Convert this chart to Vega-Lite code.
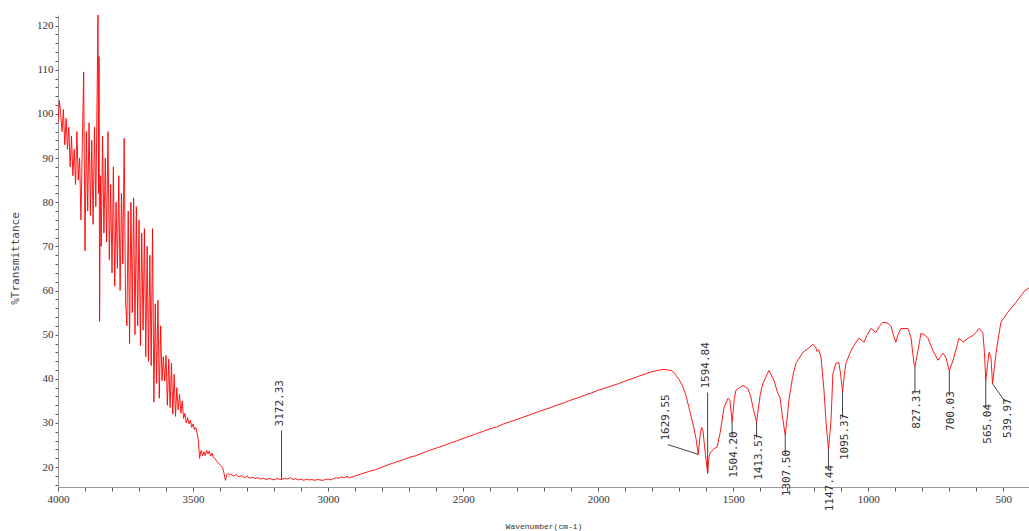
{
  "$schema": "https://vega.github.io/schema/vega-lite/v6.json",
  "width": 971,
  "height": 472,
  "autosize": {"type": "none"},
  "padding": {"left": 58, "top": 15, "right": 0, "bottom": 44},
  "background": "white",
  "config": {"view": {"stroke": null}, "axis": {"grid": false}},
  "datasets": {
    "spectrum": [
      {"wavenumber": 4000, "transmittance": 98}, {"wavenumber": 3995, "transmittance": 103}, {"wavenumber": 3990, "transmittance": 100},
      {"wavenumber": 3985, "transmittance": 96}, {"wavenumber": 3980, "transmittance": 101}, {"wavenumber": 3975, "transmittance": 93},
      {"wavenumber": 3970, "transmittance": 99}, {"wavenumber": 3965, "transmittance": 92}, {"wavenumber": 3960, "transmittance": 97},
      {"wavenumber": 3955, "transmittance": 88}, {"wavenumber": 3950, "transmittance": 95}, {"wavenumber": 3945, "transmittance": 86},
      {"wavenumber": 3940, "transmittance": 92}, {"wavenumber": 3935, "transmittance": 84}, {"wavenumber": 3930, "transmittance": 96},
      {"wavenumber": 3925, "transmittance": 85}, {"wavenumber": 3920, "transmittance": 90}, {"wavenumber": 3915, "transmittance": 76},
      {"wavenumber": 3910, "transmittance": 93}, {"wavenumber": 3905, "transmittance": 109.5}, {"wavenumber": 3900, "transmittance": 69},
      {"wavenumber": 3895, "transmittance": 96}, {"wavenumber": 3890, "transmittance": 78}, {"wavenumber": 3885, "transmittance": 98},
      {"wavenumber": 3880, "transmittance": 77}, {"wavenumber": 3875, "transmittance": 94}, {"wavenumber": 3870, "transmittance": 75},
      {"wavenumber": 3865, "transmittance": 97}, {"wavenumber": 3860, "transmittance": 79}, {"wavenumber": 3855, "transmittance": 105},
      {"wavenumber": 3852, "transmittance": 123}, {"wavenumber": 3850, "transmittance": 82}, {"wavenumber": 3848, "transmittance": 113},
      {"wavenumber": 3846, "transmittance": 53}, {"wavenumber": 3843, "transmittance": 86}, {"wavenumber": 3840, "transmittance": 70},
      {"wavenumber": 3835, "transmittance": 95}, {"wavenumber": 3830, "transmittance": 73}, {"wavenumber": 3825, "transmittance": 90},
      {"wavenumber": 3820, "transmittance": 71}, {"wavenumber": 3815, "transmittance": 96}, {"wavenumber": 3810, "transmittance": 67},
      {"wavenumber": 3805, "transmittance": 84}, {"wavenumber": 3800, "transmittance": 64}, {"wavenumber": 3795, "transmittance": 88},
      {"wavenumber": 3790, "transmittance": 61}, {"wavenumber": 3785, "transmittance": 80}, {"wavenumber": 3780, "transmittance": 65},
      {"wavenumber": 3775, "transmittance": 86}, {"wavenumber": 3770, "transmittance": 60}, {"wavenumber": 3765, "transmittance": 82},
      {"wavenumber": 3760, "transmittance": 66}, {"wavenumber": 3755, "transmittance": 94.5}, {"wavenumber": 3750, "transmittance": 58},
      {"wavenumber": 3745, "transmittance": 52}, {"wavenumber": 3740, "transmittance": 78}, {"wavenumber": 3735, "transmittance": 48},
      {"wavenumber": 3730, "transmittance": 80}, {"wavenumber": 3725, "transmittance": 55}, {"wavenumber": 3720, "transmittance": 81},
      {"wavenumber": 3715, "transmittance": 50}, {"wavenumber": 3710, "transmittance": 79}, {"wavenumber": 3705, "transmittance": 52},
      {"wavenumber": 3700, "transmittance": 76}, {"wavenumber": 3695, "transmittance": 47.5}, {"wavenumber": 3690, "transmittance": 73},
      {"wavenumber": 3685, "transmittance": 51}, {"wavenumber": 3680, "transmittance": 74}, {"wavenumber": 3675, "transmittance": 45},
      {"wavenumber": 3670, "transmittance": 70}, {"wavenumber": 3665, "transmittance": 44}, {"wavenumber": 3660, "transmittance": 68},
      {"wavenumber": 3655, "transmittance": 43}, {"wavenumber": 3650, "transmittance": 74}, {"wavenumber": 3645, "transmittance": 34.7},
      {"wavenumber": 3640, "transmittance": 57}, {"wavenumber": 3635, "transmittance": 39}, {"wavenumber": 3630, "transmittance": 57.8},
      {"wavenumber": 3625, "transmittance": 35.6}, {"wavenumber": 3620, "transmittance": 52}, {"wavenumber": 3615, "transmittance": 39.6},
      {"wavenumber": 3610, "transmittance": 45}, {"wavenumber": 3605, "transmittance": 39.5}, {"wavenumber": 3600, "transmittance": 45.3},
      {"wavenumber": 3595, "transmittance": 34}, {"wavenumber": 3590, "transmittance": 44.5}, {"wavenumber": 3585, "transmittance": 33.5},
      {"wavenumber": 3580, "transmittance": 43.5}, {"wavenumber": 3575, "transmittance": 32}, {"wavenumber": 3570, "transmittance": 41},
      {"wavenumber": 3565, "transmittance": 31.5}, {"wavenumber": 3560, "transmittance": 38}, {"wavenumber": 3555, "transmittance": 33},
      {"wavenumber": 3550, "transmittance": 36.5}, {"wavenumber": 3545, "transmittance": 32.2}, {"wavenumber": 3540, "transmittance": 35},
      {"wavenumber": 3535, "transmittance": 31}, {"wavenumber": 3530, "transmittance": 32.2}, {"wavenumber": 3525, "transmittance": 30},
      {"wavenumber": 3520, "transmittance": 31.2}, {"wavenumber": 3515, "transmittance": 29.8}, {"wavenumber": 3510, "transmittance": 30.6},
      {"wavenumber": 3505, "transmittance": 29}, {"wavenumber": 3500, "transmittance": 29.8}, {"wavenumber": 3495, "transmittance": 28.5},
      {"wavenumber": 3490, "transmittance": 29}, {"wavenumber": 3485, "transmittance": 27.6}, {"wavenumber": 3480, "transmittance": 26},
      {"wavenumber": 3476, "transmittance": 22}, {"wavenumber": 3470, "transmittance": 23.8}, {"wavenumber": 3465, "transmittance": 22.5},
      {"wavenumber": 3460, "transmittance": 23.5}, {"wavenumber": 3455, "transmittance": 22.6}, {"wavenumber": 3450, "transmittance": 23.8},
      {"wavenumber": 3445, "transmittance": 23}, {"wavenumber": 3440, "transmittance": 23.6}, {"wavenumber": 3435, "transmittance": 22.5},
      {"wavenumber": 3430, "transmittance": 23.2}, {"wavenumber": 3425, "transmittance": 22.2}, {"wavenumber": 3420, "transmittance": 22},
      {"wavenumber": 3415, "transmittance": 21.6}, {"wavenumber": 3410, "transmittance": 21.2}, {"wavenumber": 3405, "transmittance": 20.8},
      {"wavenumber": 3400, "transmittance": 20.6}, {"wavenumber": 3395, "transmittance": 20.2}, {"wavenumber": 3390, "transmittance": 19.8},
      {"wavenumber": 3385, "transmittance": 18.5}, {"wavenumber": 3380, "transmittance": 17.0}, {"wavenumber": 3375, "transmittance": 18.3},
      {"wavenumber": 3370, "transmittance": 18.6}, {"wavenumber": 3365, "transmittance": 18.2}, {"wavenumber": 3360, "transmittance": 18.4},
      {"wavenumber": 3350, "transmittance": 18.0}, {"wavenumber": 3340, "transmittance": 18.3}, {"wavenumber": 3330, "transmittance": 17.8},
      {"wavenumber": 3320, "transmittance": 18.1}, {"wavenumber": 3310, "transmittance": 17.6}, {"wavenumber": 3300, "transmittance": 17.9},
      {"wavenumber": 3290, "transmittance": 17.5}, {"wavenumber": 3280, "transmittance": 17.7}, {"wavenumber": 3270, "transmittance": 17.4},
      {"wavenumber": 3260, "transmittance": 17.6}, {"wavenumber": 3250, "transmittance": 17.3}, {"wavenumber": 3240, "transmittance": 17.5},
      {"wavenumber": 3230, "transmittance": 17.2}, {"wavenumber": 3220, "transmittance": 17.4}, {"wavenumber": 3210, "transmittance": 17.3},
      {"wavenumber": 3200, "transmittance": 17.1}, {"wavenumber": 3190, "transmittance": 17.4}, {"wavenumber": 3172.33, "transmittance": 17.2},
      {"wavenumber": 3160, "transmittance": 17.5}, {"wavenumber": 3150, "transmittance": 17.3}, {"wavenumber": 3140, "transmittance": 17.6},
      {"wavenumber": 3130, "transmittance": 17.2}, {"wavenumber": 3120, "transmittance": 17.4}, {"wavenumber": 3110, "transmittance": 17.1},
      {"wavenumber": 3100, "transmittance": 17.3}, {"wavenumber": 3090, "transmittance": 17.0}, {"wavenumber": 3080, "transmittance": 17.3},
      {"wavenumber": 3070, "transmittance": 17.1}, {"wavenumber": 3060, "transmittance": 17.2}, {"wavenumber": 3050, "transmittance": 17.0},
      {"wavenumber": 3040, "transmittance": 17.2}, {"wavenumber": 3030, "transmittance": 17.1}, {"wavenumber": 3020, "transmittance": 17.0},
      {"wavenumber": 3010, "transmittance": 17.2}, {"wavenumber": 3000, "transmittance": 17.3}, {"wavenumber": 2990, "transmittance": 17.1},
      {"wavenumber": 2980, "transmittance": 17.4}, {"wavenumber": 2970, "transmittance": 17.6}, {"wavenumber": 2960, "transmittance": 17.5},
      {"wavenumber": 2950, "transmittance": 17.8}, {"wavenumber": 2940, "transmittance": 17.6}, {"wavenumber": 2930, "transmittance": 17.9},
      {"wavenumber": 2920, "transmittance": 17.6}, {"wavenumber": 2900, "transmittance": 18.0}, {"wavenumber": 2875, "transmittance": 18.5},
      {"wavenumber": 2850, "transmittance": 19.0}, {"wavenumber": 2825, "transmittance": 19.4}, {"wavenumber": 2800, "transmittance": 20.0},
      {"wavenumber": 2775, "transmittance": 20.6}, {"wavenumber": 2750, "transmittance": 21.1}, {"wavenumber": 2725, "transmittance": 21.6},
      {"wavenumber": 2700, "transmittance": 22.2}, {"wavenumber": 2675, "transmittance": 22.6}, {"wavenumber": 2650, "transmittance": 23.2},
      {"wavenumber": 2625, "transmittance": 23.8}, {"wavenumber": 2600, "transmittance": 24.3}, {"wavenumber": 2575, "transmittance": 24.8},
      {"wavenumber": 2550, "transmittance": 25.4}, {"wavenumber": 2525, "transmittance": 25.9}, {"wavenumber": 2500, "transmittance": 26.5},
      {"wavenumber": 2475, "transmittance": 27.0}, {"wavenumber": 2450, "transmittance": 27.6}, {"wavenumber": 2425, "transmittance": 28.1},
      {"wavenumber": 2400, "transmittance": 28.7}, {"wavenumber": 2375, "transmittance": 29.1}, {"wavenumber": 2350, "transmittance": 29.8},
      {"wavenumber": 2325, "transmittance": 30.3}, {"wavenumber": 2300, "transmittance": 30.8}, {"wavenumber": 2275, "transmittance": 31.4},
      {"wavenumber": 2250, "transmittance": 31.9}, {"wavenumber": 2225, "transmittance": 32.5}, {"wavenumber": 2200, "transmittance": 33.0},
      {"wavenumber": 2175, "transmittance": 33.5}, {"wavenumber": 2150, "transmittance": 34.1}, {"wavenumber": 2125, "transmittance": 34.6},
      {"wavenumber": 2100, "transmittance": 35.2}, {"wavenumber": 2075, "transmittance": 35.7}, {"wavenumber": 2050, "transmittance": 36.3},
      {"wavenumber": 2025, "transmittance": 36.8}, {"wavenumber": 2000, "transmittance": 37.4}, {"wavenumber": 1975, "transmittance": 37.9},
      {"wavenumber": 1950, "transmittance": 38.4}, {"wavenumber": 1925, "transmittance": 38.9}, {"wavenumber": 1900, "transmittance": 39.5},
      {"wavenumber": 1875, "transmittance": 40.0}, {"wavenumber": 1850, "transmittance": 40.6}, {"wavenumber": 1830, "transmittance": 41.0},
      {"wavenumber": 1808, "transmittance": 41.5}, {"wavenumber": 1780, "transmittance": 41.9}, {"wavenumber": 1760, "transmittance": 42.1},
      {"wavenumber": 1740, "transmittance": 42.0}, {"wavenumber": 1725, "transmittance": 41.8}, {"wavenumber": 1712, "transmittance": 40.8},
      {"wavenumber": 1700, "transmittance": 39.8}, {"wavenumber": 1686, "transmittance": 38.1}, {"wavenumber": 1675, "transmittance": 36.2},
      {"wavenumber": 1664, "transmittance": 33.5}, {"wavenumber": 1655, "transmittance": 31.2}, {"wavenumber": 1646, "transmittance": 29.0},
      {"wavenumber": 1638, "transmittance": 26.5}, {"wavenumber": 1629.55, "transmittance": 22.9}, {"wavenumber": 1622, "transmittance": 27.5},
      {"wavenumber": 1617, "transmittance": 29.0}, {"wavenumber": 1612, "transmittance": 28.3}, {"wavenumber": 1606, "transmittance": 24.5},
      {"wavenumber": 1594.84, "transmittance": 18.6}, {"wavenumber": 1590, "transmittance": 22.2}, {"wavenumber": 1585, "transmittance": 23.3},
      {"wavenumber": 1571, "transmittance": 24.2}, {"wavenumber": 1560, "transmittance": 24.5}, {"wavenumber": 1549, "transmittance": 27.6},
      {"wavenumber": 1534, "transmittance": 33.5}, {"wavenumber": 1519, "transmittance": 35.6}, {"wavenumber": 1512, "transmittance": 35.1},
      {"wavenumber": 1504.2, "transmittance": 30.2}, {"wavenumber": 1496, "transmittance": 35.5}, {"wavenumber": 1490, "transmittance": 37.4},
      {"wavenumber": 1464, "transmittance": 38.5}, {"wavenumber": 1446, "transmittance": 37.8}, {"wavenumber": 1435, "transmittance": 36.0},
      {"wavenumber": 1427, "transmittance": 33.5}, {"wavenumber": 1413.57, "transmittance": 30.2}, {"wavenumber": 1400, "transmittance": 36.5},
      {"wavenumber": 1390, "transmittance": 39.0}, {"wavenumber": 1368, "transmittance": 41.9}, {"wavenumber": 1349, "transmittance": 39.6},
      {"wavenumber": 1335, "transmittance": 36.7}, {"wavenumber": 1327, "transmittance": 35.8}, {"wavenumber": 1318, "transmittance": 31.5},
      {"wavenumber": 1307.5, "transmittance": 27.2}, {"wavenumber": 1298, "transmittance": 32.5}, {"wavenumber": 1294, "transmittance": 35.1},
      {"wavenumber": 1280, "transmittance": 40.5}, {"wavenumber": 1268, "transmittance": 43.5}, {"wavenumber": 1242, "transmittance": 46.0},
      {"wavenumber": 1220, "transmittance": 47.0}, {"wavenumber": 1205, "transmittance": 47.8}, {"wavenumber": 1195, "transmittance": 47.2},
      {"wavenumber": 1190, "transmittance": 46.2}, {"wavenumber": 1184, "transmittance": 46.6}, {"wavenumber": 1175, "transmittance": 44.9},
      {"wavenumber": 1164, "transmittance": 37.4}, {"wavenumber": 1157, "transmittance": 30.6}, {"wavenumber": 1147.44, "transmittance": 24.0},
      {"wavenumber": 1138, "transmittance": 30.6}, {"wavenumber": 1131, "transmittance": 41.2}, {"wavenumber": 1120, "transmittance": 43.5},
      {"wavenumber": 1109, "transmittance": 43.7}, {"wavenumber": 1102, "transmittance": 40.8}, {"wavenumber": 1095.37, "transmittance": 37.0},
      {"wavenumber": 1089, "transmittance": 40.8}, {"wavenumber": 1083, "transmittance": 43.5}, {"wavenumber": 1070, "transmittance": 45.5},
      {"wavenumber": 1057, "transmittance": 47.2}, {"wavenumber": 1035, "transmittance": 49.2}, {"wavenumber": 1016, "transmittance": 48.3},
      {"wavenumber": 1005, "transmittance": 49.8}, {"wavenumber": 990, "transmittance": 51.4}, {"wavenumber": 972, "transmittance": 50.5},
      {"wavenumber": 960, "transmittance": 51.8}, {"wavenumber": 946, "transmittance": 52.8}, {"wavenumber": 927, "transmittance": 52.6},
      {"wavenumber": 915, "transmittance": 51.8}, {"wavenumber": 909, "transmittance": 50.3}, {"wavenumber": 898, "transmittance": 48.3},
      {"wavenumber": 890, "transmittance": 50.0}, {"wavenumber": 879, "transmittance": 51.4}, {"wavenumber": 853, "transmittance": 51.4},
      {"wavenumber": 842, "transmittance": 49.4}, {"wavenumber": 831, "transmittance": 43.5}, {"wavenumber": 827.31, "transmittance": 42.8},
      {"wavenumber": 816, "transmittance": 46.4}, {"wavenumber": 805, "transmittance": 50.3}, {"wavenumber": 792, "transmittance": 50.0},
      {"wavenumber": 779, "transmittance": 49.2}, {"wavenumber": 761, "transmittance": 46.4}, {"wavenumber": 742, "transmittance": 44.2},
      {"wavenumber": 733, "transmittance": 45.0}, {"wavenumber": 724, "transmittance": 45.8}, {"wavenumber": 713, "transmittance": 44.9},
      {"wavenumber": 700.03, "transmittance": 41.8}, {"wavenumber": 690, "transmittance": 43.5}, {"wavenumber": 683, "transmittance": 44.9},
      {"wavenumber": 664, "transmittance": 49.2}, {"wavenumber": 649, "transmittance": 48.3}, {"wavenumber": 631, "transmittance": 49.2},
      {"wavenumber": 613, "transmittance": 49.8}, {"wavenumber": 600, "transmittance": 50.6}, {"wavenumber": 590, "transmittance": 51.4},
      {"wavenumber": 576, "transmittance": 50.5}, {"wavenumber": 570, "transmittance": 46.0}, {"wavenumber": 565.04, "transmittance": 39.6},
      {"wavenumber": 558, "transmittance": 43.5}, {"wavenumber": 553, "transmittance": 46.0}, {"wavenumber": 546, "transmittance": 44.9},
      {"wavenumber": 539.97, "transmittance": 38.9}, {"wavenumber": 533, "transmittance": 42.5}, {"wavenumber": 527, "transmittance": 45.8},
      {"wavenumber": 518, "transmittance": 49.5}, {"wavenumber": 509, "transmittance": 52.8}, {"wavenumber": 483, "transmittance": 55.1},
      {"wavenumber": 454, "transmittance": 57.3}, {"wavenumber": 420, "transmittance": 60.0}, {"wavenumber": 405, "transmittance": 60.6}
    ],
    "peaks": [
      {"wavenumber": 3172.33, "transmittance": 17.2, "labelWavenumber": 3172.33, "labelTransmittance": 28.3, "label": "3172.33", "side": "above"},
      {"wavenumber": 1629.55, "transmittance": 22.9, "labelWavenumber": 1742, "labelTransmittance": 25.1, "label": "1629.55", "side": "above"},
      {"wavenumber": 1594.84, "transmittance": 18.6, "labelWavenumber": 1594.84, "labelTransmittance": 36.9, "label": "1594.84", "side": "above"},
      {"wavenumber": 1504.2, "transmittance": 30.2, "labelWavenumber": 1504.2, "labelTransmittance": 27.2, "label": "1504.20", "side": "below"},
      {"wavenumber": 1413.57, "transmittance": 30.2, "labelWavenumber": 1413.57, "labelTransmittance": 26.7, "label": "1413.57", "side": "below"},
      {"wavenumber": 1307.5, "transmittance": 27.2, "labelWavenumber": 1307.5, "labelTransmittance": 23.0, "label": "1307.50", "side": "below"},
      {"wavenumber": 1147.44, "transmittance": 24.0, "labelWavenumber": 1147.44, "labelTransmittance": 19.6, "label": "1147.44", "side": "below"},
      {"wavenumber": 1095.37, "transmittance": 37.0, "labelWavenumber": 1095.37, "labelTransmittance": 31.2, "label": "1095.37", "side": "below"},
      {"wavenumber": 827.31, "transmittance": 42.8, "labelWavenumber": 827.31, "labelTransmittance": 36.8, "label": "827.31", "side": "below"},
      {"wavenumber": 700.03, "transmittance": 41.8, "labelWavenumber": 700.03, "labelTransmittance": 36.3, "label": "700.03", "side": "below"},
      {"wavenumber": 565.04, "transmittance": 39.6, "labelWavenumber": 565.04, "labelTransmittance": 33.4, "label": "565.04", "side": "below"},
      {"wavenumber": 539.97, "transmittance": 38.9, "labelWavenumber": 492, "labelTransmittance": 34.7, "label": "539.97", "side": "below"}
    ]
  },
  "layer": [
    {
      "data": {"name": "spectrum"},
      "mark": {"type": "line", "color": "#ff0000", "strokeWidth": 0.9, "clip": true},
      "encoding": {
        "x": {
          "field": "wavenumber", "type": "quantitative", "title": "Wavenumber(cm-1)",
          "scale": {"domain": [405, 4000], "reverse": true, "zero": false, "nice": false},
          "axis": {
            "values": [500,600,700,800,900,1000,1100,1200,1300,1400,1500,1600,1700,1800,1900,2000,2100,2200,2300,2400,2500,2600,2700,2800,2900,3000,3100,3200,3300,3400,3500,3600,3700,3800,3900,4000],
            "tickCount": 400,
            "labelExpr": "datum.value % 500 === 0 ? format(datum.value, 'd') : ''",
            "labelFlush": false, "labelOverlap": false,
            "tickSize": 4, "tickColor": "#555", "domainColor": "#999",
            "labelFont": "Liberation Sans Narrow", "labelFontSize": 11, "labelColor": "#333", "labelPadding": 2,
            "titleFont": "Liberation Mono", "titleFontSize": 8, "titleFontWeight": "normal", "titleColor": "#333",
            "titleY": 39.5, "titleBaseline": "middle"
          }
        },
        "y": {
          "field": "transmittance", "type": "quantitative", "title": "%Transmittance",
          "scale": {"domain": [15.5, 122.4], "zero": false, "nice": false},
          "axis": {
            "values": [16,18,20,22,24,26,28,30,32,34,36,38,40,42,44,46,48,50,52,54,56,58,60,62,64,66,68,70,72,74,76,78,80,82,84,86,88,90,92,94,96,98,100,102,104,106,108,110,112,114,116,118,120,122],
            "tickCount": 400,
            "labelExpr": "datum.value % 10 === 0 ? format(datum.value, 'd') : ''",
            "labelOverlap": false,
            "tickSize": 3, "tickColor": "#555", "domainColor": "#999",
            "labelFont": "Liberation Sans Narrow", "labelFontSize": 11, "labelColor": "#333", "labelPadding": 2,
            "titleFont": "DejaVu Sans Mono", "titleFontSize": 11, "titleFontWeight": "normal", "titleColor": "#444",
            "titleX": -43, "titleY": 243, "titleAngle": 270, "titleBaseline": "middle", "titleAlign": "center"
          }
        }
      }
    },
    {
      "data": {"name": "peaks"},
      "mark": {"type": "rule", "color": "#444", "strokeWidth": 1},
      "encoding": {
        "x": {"field": "wavenumber", "type": "quantitative", "title": "Wavenumber(cm-1)"},
        "x2": {"field": "labelWavenumber"},
        "y": {"field": "transmittance", "type": "quantitative", "title": "%Transmittance"},
        "y2": {"field": "labelTransmittance"}
      }
    },
    {
      "data": {"name": "peaks"},
      "transform": [{"filter": "datum.side === 'above'"}],
      "mark": {"type": "text", "angle": 270, "align": "left", "baseline": "middle", "dx": 4, "dy": -2, "font": "DejaVu Sans Mono", "fontSize": 11, "color": "#333"},
      "encoding": {
        "x": {"field": "labelWavenumber", "type": "quantitative", "title": "Wavenumber(cm-1)"},
        "y": {"field": "labelTransmittance", "type": "quantitative", "title": "%Transmittance"},
        "text": {"field": "label"}
      }
    },
    {
      "data": {"name": "peaks"},
      "transform": [{"filter": "datum.side === 'below'"}],
      "mark": {"type": "text", "angle": 270, "align": "right", "baseline": "middle", "dx": 4, "dy": 2, "font": "DejaVu Sans Mono", "fontSize": 11, "color": "#333"},
      "encoding": {
        "x": {"field": "labelWavenumber", "type": "quantitative", "title": "Wavenumber(cm-1)"},
        "y": {"field": "labelTransmittance", "type": "quantitative", "title": "%Transmittance"},
        "text": {"field": "label"}
      }
    }
  ]
}
